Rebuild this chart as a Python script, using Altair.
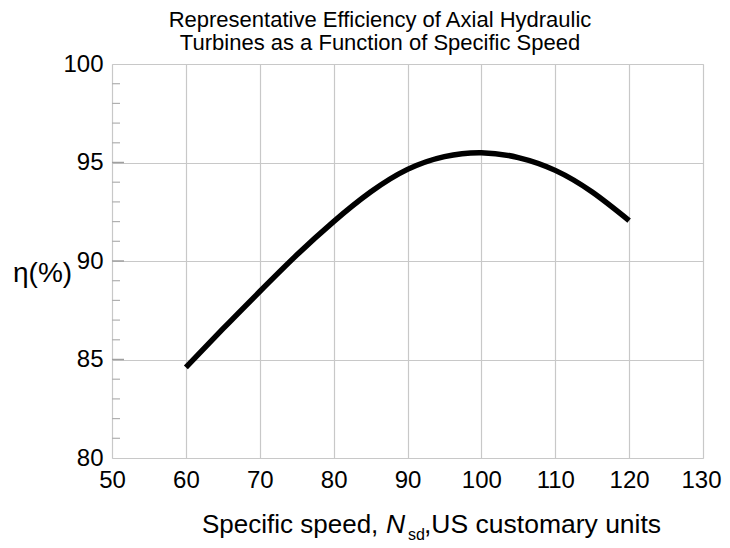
import altair as alt
import pandas as pd

# Curve data
speed = [60, 65, 70, 75, 80, 85, 90, 95, 100, 105, 110, 115, 120]
eff = [84.6, 86.55, 88.45, 90.3, 92.0, 93.5, 94.65, 95.3, 95.5, 95.25, 94.6, 93.5, 92.05]

x_ticks = [50, 60, 70, 80, 90, 100, 110, 120, 130]
y_ticks = [80, 85, 90, 95, 100]
minor_y = [81, 82, 83, 84, 86, 87, 88, 89, 91, 92, 93, 94, 96, 97, 98, 99]
major_y = [85, 90, 95]

title_lines = ["Representative Efficiency of Axial Hydraulic",
               "Turbines as a Function of Specific Speed"]
FONT = "Liberation Sans"

W, H = 591, 394

df = pd.DataFrame({"speed": speed, "eff": eff})

xs = alt.Scale(domain=[50, 130], nice=False)
ys = alt.Scale(domain=[80, 100], nice=False)

x_axis = alt.Axis(values=x_ticks, title=None, ticks=False, domain=False,
                  grid=True, gridColor="#c8c8c8", gridWidth=1.2,
                  labelFontSize=24, labelColor="black", labelFont=FONT,
                  labelPadding=10, labelFlush=False, labelOverlap=False, format="d",
                  labelOffset={"condition": {"test": "datum.value === 130", "value": -2}, "value": 0})
y_axis = alt.Axis(values=y_ticks, title=None, ticks=False, domain=False,
                  grid=True, gridColor="#c8c8c8", gridWidth=1.2,
                  labelFontSize=24, labelColor="black", labelFont=FONT,
                  labelPadding=9, labelFlush=False, labelOverlap=False, format="d")

line = alt.Chart(df).mark_line(color="black", strokeWidth=5.5, interpolate="natural").encode(
    x=alt.X("speed:Q", scale=xs, axis=x_axis),
    y=alt.Y("eff:Q", scale=ys, axis=y_axis),
)

minor = alt.Chart(pd.DataFrame({"v": minor_y})).mark_rule(color="#b0b0b0", strokeWidth=1.2).encode(
    y=alt.Y("v:Q", scale=ys, axis=y_axis), x=alt.value(0), x2=alt.value(8)
)
major = alt.Chart(pd.DataFrame({"v": major_y})).mark_rule(color="#a0a0a0", strokeWidth=1.5).encode(
    y=alt.Y("v:Q", scale=ys, axis=y_axis), x=alt.value(0), x2=alt.value(12)
)

one = pd.DataFrame({"a": [0]})


def txt(s, x, y, size=24, style="normal", align="left"):
    return alt.Chart(one).mark_text(text=s, font=FONT, fontSize=size, fontStyle=style,
                                    color="black", align=align,
                                    baseline="alphabetic").encode(
        x=alt.value(x), y=alt.value(y))


t1 = txt(title_lines[0], 268, -37, 22, align="center")
t2 = txt(title_lines[1], 268, -14, 22, align="center")
xt1 = txt("Specific speed, ", 90, 469, 26)
xt2 = txt("N", 274, 469, 26.5, "italic")
xt3 = txt("sd", 296, 476, 16)
xt4 = txt(",US customary units", 312, 469, 26.5)
yt = txt("η(%)", -99, 218, 28)

chart = alt.layer(minor, major, line, t1, t2, xt1, xt2, xt3, xt4, yt).properties(
    width=W, height=H,
    autosize=alt.AutoSizeParams(type="none"),
    padding={"left": 104, "top": 56, "right": 19, "bottom": 84},
).configure_view(stroke="#b4b4b4", strokeWidth=1.5).configure(background="white")

chart.save("out.html", embed_options={"renderer": "svg", "actions": False})
